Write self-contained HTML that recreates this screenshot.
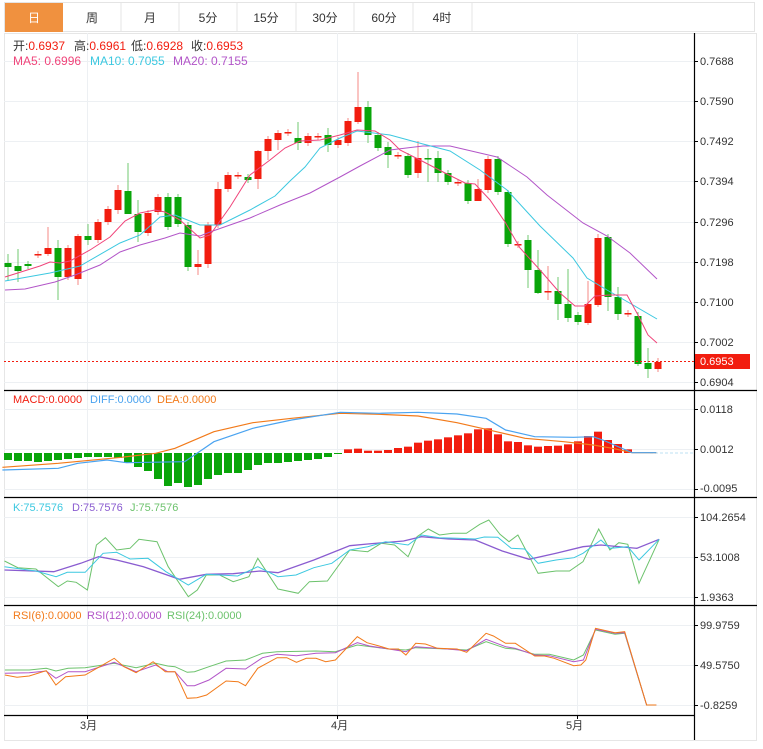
<!DOCTYPE html>
<html><head><meta charset="utf-8"><style>
body{margin:0;background:#fff;width:763px;height:749px;overflow:hidden;font-family:"Liberation Sans","Noto Sans CJK SC",sans-serif}
svg{position:absolute;left:0;top:0}
text{font-family:"Liberation Sans","Noto Sans CJK SC",sans-serif;font-size:11px}
.h text{font-size:12px}
.p text{font-size:11px}
</style></head><body>
<svg id="s" width="763" height="749" viewBox="0 0 763 749">
<rect x="0" y="0" width="763" height="749" fill="#fff"/>
<rect x="4.5" y="2.5" width="750" height="29" fill="#fff" stroke="#e4e4e4"/>
<rect x="5" y="3" width="58" height="29" fill="#f0913f"/>
<g stroke="#e4e4e4"><line x1="121" y1="3" x2="121" y2="31"/><line x1="179" y1="3" x2="179" y2="31"/><line x1="237" y1="3" x2="237" y2="31"/><line x1="296" y1="3" x2="296" y2="31"/><line x1="354" y1="3" x2="354" y2="31"/><line x1="413" y1="3" x2="413" y2="31"/><line x1="472" y1="3" x2="472" y2="31"/></g>
<g font-size="12" text-anchor="middle" fill="#333">
<text x="34" y="22" fill="#fff" style="font-size:12px">日</text><text x="92" y="22" style="font-size:12px">周</text><text x="150" y="22" style="font-size:12px">月</text><text x="208" y="22" style="font-size:12px">5分</text><text x="266" y="22" style="font-size:12px">15分</text><text x="325" y="22" style="font-size:12px">30分</text><text x="384" y="22" style="font-size:12px">60分</text><text x="442" y="22" style="font-size:12px">4时</text></g>
<rect x="4.5" y="33.5" width="752" height="707" fill="none" stroke="#e6e6e6"/>
<g id="grid" stroke="#edf0f3" stroke-width="1"></g>
<g stroke="#000" stroke-width="1.2"><line x1="4" y1="390.5" x2="757" y2="390.5"/><line x1="4" y1="497.5" x2="757" y2="497.5"/><line x1="4" y1="605.5" x2="757" y2="605.5"/><line x1="4" y1="715.5" x2="694" y2="715.5"/><line x1="694.5" y1="33" x2="694.5" y2="740"/></g>
<g id="plot"></g>
<g fill="#333">
<text x="700" y="65">0.7688</text><text x="700" y="105">0.7590</text><text x="700" y="145">0.7492</text><text x="700" y="185">0.7394</text><text x="700" y="226">0.7296</text><text x="700" y="266">0.7198</text><text x="700" y="306">0.7100</text><text x="700" y="346">0.7002</text><text x="700" y="386">0.6904</text>
<text x="700" y="413">0.0118</text><text x="700" y="453">0.0012</text><text x="700" y="492">-0.0095</text>
<text x="700" y="521">104.2654</text><text x="700" y="561">53.1008</text><text x="700" y="601">1.9363</text>
<text x="700" y="629">99.9759</text><text x="700" y="669">49.5750</text><text x="700" y="709">-0.8259</text>
<text x="80" y="729">3月</text><text x="331" y="729">4月</text><text x="566" y="729">5月</text>
</g>
<rect x="695" y="354" width="55" height="15" fill="#f21d0f"/>
<text x="700" y="365" fill="#fff">0.6953</text>
<g class="h">
<text x="13" y="50" fill="#333">开:<tspan fill="#f21d0f">0.6937</tspan></text>
<text x="74" y="50" fill="#333">高:<tspan fill="#f21d0f">0.6961</tspan></text>
<text x="131" y="50" fill="#333">低:<tspan fill="#f21d0f">0.6928</tspan></text>
<text x="191" y="50" fill="#333">收:<tspan fill="#f21d0f">0.6953</tspan></text>
<text x="13" y="65" fill="#f0447a">MA5: 0.6996</text>
<text x="90" y="65" fill="#3cc8e0">MA10: 0.7055</text>
<text x="173" y="65" fill="#b255c8">MA20: 0.7155</text>
</g>
<g class="p">
<text x="13" y="403" fill="#f21d0f">MACD:0.0000</text>
<text x="90" y="403" fill="#4aa3f0">DIFF:0.0000</text>
<text x="157" y="403" fill="#f27a1a">DEA:0.0000</text>
<text x="13" y="511" fill="#3cc8e0">K:75.7576</text>
<text x="72" y="511" fill="#8a5cd0">D:75.7576</text>
<text x="130" y="511" fill="#6cc26c">J:75.7576</text>
<text x="13" y="619" fill="#f27a1a">RSI(6):0.0000</text>
<text x="87" y="619" fill="#b255c8">RSI(12):0.0000</text>
<text x="167" y="619" fill="#6cc26c">RSI(24):0.0000</text>
</g>
</svg>
<script>
var NS="http://www.w3.org/2000/svg",P=document.getElementById('plot'),G=document.getElementById('grid');
function el(t,a,p){var e=document.createElementNS(NS,t);for(var k in a)e.setAttribute(k,a[k]);(p||P).appendChild(e);return e;}
[61,101,141,181,222,262,302,342,382,409,449,489,517,557,597,625,665,705].forEach(function(y){el('line',{x1:4,x2:694,y1:y+.5,y2:y+.5},G);el('line',{x1:694,x2:698,y1:y+.5,y2:y+.5,stroke:'#000'},G);});
[87,337,577].forEach(function(x){el('line',{x1:x+.5,x2:x+.5,y1:33,y2:715},G);el('line',{x1:x+.5,x2:x+.5,y1:715,y2:719,stroke:'#000'},G);});
var C=[[263,267,0],[266,271,0],[264,266,0],[254,255,1],[248,254,1],[248,277,0],[248,277,1],[236,279,1],[236,240,0],[222,240,1],[209,222,1],[190,210,1],[191,214,0],[214,232,0],[213,233,1],[197,212,1],[197,227,0],[197,224,0],[225,267,0],[264,267,1],[225,264,1],[189,225,1],[175,189,1],[175,176,1],[177,180,0],[151,179,1],[139,151,1],[133,140,1],[132,133,1],[138,143,0],[136,143,1],[136,137,1],[135,145,0],[140,145,1],[121,143,1],[107,122,1],[107,135,0],[135,148,0],[147,155,0],[155,156,1],[156,175,0],[158,173,1],[158,159,0],[158,173,0],[173,182,0],[182,183,1],[183,201,0],[189,201,1],[159,190,1],[159,192,0],[192,244,0],[244,245,1],[240,270,0],[270,293,0],[291,292,1],[291,304,0],[304,318,0],[315,322,0],[304,323,1],[238,305,1],[237,297,0],[297,314,0],[313,314,1],[316,364,0],[363,369,0],[362,369,1]];
var W={0:[254,281],1:[249,282],4:[227,256],5:[240,300],7:[234,285],8:[224,245],11:[185,214],12:[163,214],13:[200,242],16:[193,230],18:[222,271],19:[250,275],20:[222,268],21:[182,228],25:[150,189],26:[136,160],27:[130,150],29:[122,150],32:[128,152],35:[72,124],36:[101,143],38:[142,168],41:[141,178],42:[149,182],43:[151,182],47:[179,193],50:[190,247],52:[235,288],53:[250,294],54:[266,300],55:[277,320],56:[269,322],58:[281,325],59:[234,307],60:[234,311],61:[287,320],63:[312,366],64:[348,378],65:[358,372]};
C.forEach(function(c,i){var x=8+10*i,col=c[2]?'#f21d0f':'#0aa50a',w=W[i]||[c[0]-3,c[1]+3];
el('line',{x1:x,x2:x,y1:w[0],y2:w[1],stroke:c[2]?'#f58a85':'#72c872','stroke-width':1});
el('rect',{x:x-3.5,y:c[0],width:7,height:Math.max(1.5,c[1]-c[0]),fill:col});});
function pl(pts,col,sx,ox,sy,oy,w,dash){var s=pts.map(function(p){return (p[0]/sx+ox).toFixed(1)+','+(p[1]/sy+oy).toFixed(1)}).join(' ');var a={points:s,fill:'none',stroke:col,'stroke-width':w||1};if(dash)a['stroke-dasharray']=dash;el('polyline',a);}
pl([[5,290],[25,289],[55,282],[75,275],[100,265],[120,252],[140,245],[165,238],[180,233],[200,236],[210,232],[250,218],[280,205],[310,193],[340,177],[360,166],[390,150],[423,146],[450,146],[497,157],[527,177],[547,195],[583,223],[607,236],[630,253],[657,279]],'#b255c8',1,0,1,0);
pl([[5,281],[50,273],[80,266],[120,243],[140,235],[160,217],[175,215],[200,225],[220,225],[250,210],[275,196],[290,181],[305,167],[320,148],[340,138],[357,131],[390,135],[423,144],[450,151],[480,170],[507,190],[540,226],[573,258],[587,278],[607,290],[633,305],[657,319]],'#3cc8e0',1,0,1,0);
pl([[5,277],[40,266],[50,262],[60,263],[70,261],[90,250],[110,237],[125,221],[140,213],[155,210],[165,212],[180,220],[200,238],[210,235],[230,207],[250,175],[270,160],[285,148],[300,141],[320,140],[340,135],[357,130],[375,131],[390,140],[400,150],[420,160],[445,173],[465,183],[475,184],[490,200],[505,222],[520,248],[540,270],[560,293],[575,306],[585,306],[595,296],[610,295],[627,295],[638,315],[648,335],[657,343]],'#f0447a',1,0,1,0);
el('line',{x1:4,x2:694,y1:361.5,y2:361.5,stroke:'#f21d0f','stroke-dasharray':'2,2'});
var g=[460,461,461,462,461,460,459,458,457,457,457,458,463,467,471,479,486,483,487,485,479,475,473,473,470,465,463,463,462,461,460,459,457,454];
g.forEach(function(b,i){el('rect',{x:8+10*i-4,y:453,width:8,height:b-453,fill:'#0aa50a'});});
var r=[208,206,212,212,210,204,200,188,182,178,172,166,160,148,145,163,184,186,196,200,198,197,193,184,168,155,180,192,208];
r.forEach(function(t,j){var i=34+j,y=380+t/3;el('rect',{x:8+10*i-4,y:y,width:8,height:453-y,fill:'#f21d0f'});});
el('line',{x1:650,x2:694,y1:453,y2:453,stroke:'#a9d8ef','stroke-dasharray':'3,2','stroke-width':0.8});
pl([[5,262],[120,250],[250,232],[320,220],[360,205],[440,155],[520,128],[600,115],[700,100],[780,103],[860,108],[940,128],[1000,148],[1080,175],[1160,185],[1220,195],[1260,205],[1300,218],[1350,218]],'#f27a1a',2.057,0,3,380,1.2);
pl([[5,270],[120,265],[160,250],[220,240],[260,248],[380,245],[440,185],[520,145],[600,120],[700,97],[780,100],[860,97],[940,102],[1000,115],[1040,150],[1100,170],[1180,172],[1220,170],[1240,180],[1300,218],[1350,218]],'#4aa3f0',2.057,0,3,380,1.2);
pl([[10,198],[40,218],[80,222],[130,275],[150,258],[170,262],[195,285],[215,150],[235,128],[260,165],[290,160],[310,133],[350,140],[375,215],[420,305],[440,285],[460,240],[490,240],[520,260],[555,245],[575,190],[620,282],[665,295],[690,260],[730,258],[780,165],[820,170],[850,145],[880,150],[910,185],[930,125],[955,102],[980,120],[1010,115],[1040,115],[1070,88],[1090,75],[1115,118],[1135,140],[1155,120],[1200,235],[1240,228],[1270,228],[1300,200],[1335,102],[1360,165],[1380,143],[1400,148],[1425,265],[1470,133]],'#6cc26c',2.23,0,3,495);
pl([[10,225],[120,230],[180,205],[220,185],[260,195],[320,215],[400,253],[460,238],[520,236],[580,228],[620,233],[700,195],[780,152],[820,147],[900,138],[940,125],[1000,132],[1060,135],[1120,168],[1180,193],[1240,175],[1300,155],[1340,150],[1420,160],[1470,133]],'#8a5cd0',2.23,0,3,495,1.3);
pl([[10,215],[80,228],[125,245],[150,232],[190,232],[230,175],[260,172],[290,192],[330,190],[370,230],[420,270],[460,238],[530,243],[575,215],[620,245],[660,240],[700,218],[740,205],[780,165],[820,155],[860,140],[910,150],[940,120],[980,128],[1020,130],[1060,132],[1080,126],[1110,127],[1140,160],[1170,162],[1200,205],[1240,195],[1280,188],[1300,175],[1340,135],[1360,160],[1400,155],[1425,195],[1470,133]],'#3cc8e0',2.23,0,3,495);
pl([[10,210],[60,210],[95,205],[115,213],[140,205],[175,203],[235,190],[280,203],[320,190],[345,198],[360,200],[385,217],[400,215],[430,200],[465,183],[505,180],[540,160],[570,155],[650,153],[690,155],[735,135],[800,147],[835,150],[855,143],[920,147],[960,150],[1000,125],[1040,145],[1060,147],[1100,163],[1130,163],[1180,180],[1200,165],[1225,90],[1265,103],[1285,100],[1330,315],[1350,315]],'#6cc26c',2.057,0,3,600);
pl([[10,220],[60,218],[95,213],[115,235],[140,215],[175,215],[235,187],[280,215],[320,195],[345,215],[360,215],[385,257],[400,257],[430,240],[465,205],[505,207],[540,173],[570,163],[610,167],[650,160],[690,158],[735,128],[760,138],[800,147],[835,155],[855,140],[920,147],[960,152],[1000,118],[1040,140],[1060,145],[1100,165],[1130,167],[1180,185],[1200,180],[1225,88],[1265,100],[1285,98],[1330,315],[1350,315]],'#b255c8',2.057,0,3,600);
pl([[10,225],[35,232],[60,228],[95,212],[115,255],[135,230],[175,225],[205,200],[235,175],[255,200],[280,218],[315,185],[340,215],[360,215],[385,295],[405,293],[425,285],[465,243],[490,245],[505,257],[530,205],[570,173],[590,173],[610,187],[630,175],[650,175],[670,185],[690,180],[735,110],[755,128],[780,138],[800,147],[820,147],[835,165],[855,130],[875,132],[900,145],[940,147],[960,157],[1000,100],[1015,108],[1040,130],[1060,130],[1100,168],[1120,168],[1140,175],[1180,197],[1195,195],[1205,180],[1225,85],[1265,98],[1285,95],[1330,315],[1350,315]],'#f27a1a',2.057,0,3,600);
</script>
</body></html>
